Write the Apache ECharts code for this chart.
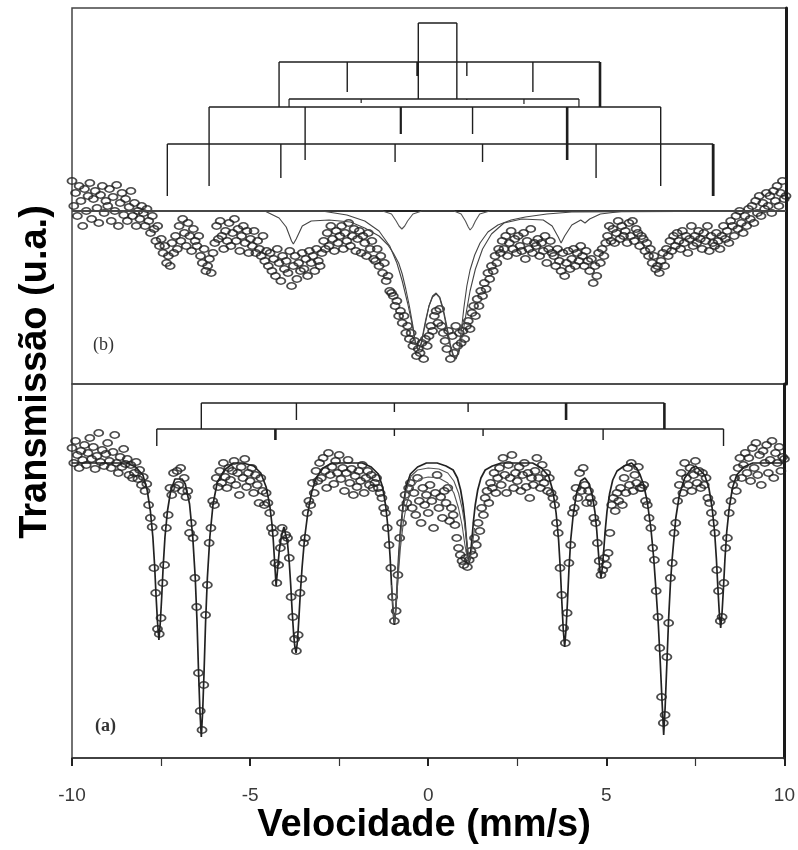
<!DOCTYPE html>
<html><head><meta charset="utf-8">
<script src="https://cdn.jsdelivr.net/npm/echarts@6/dist/echarts.min.js"></script>
<style>html,body{margin:0;padding:0;background:#fff}#chart{width:798px;height:850px}</style>
</head><body><div id="chart"></div>
<script>
// ---------- DATA ----------
// velocity channels (mm/s), 0.05 mm/s per channel
const channelStart = -10, channelStep = 0.05, channelCount = 401;
const velocity = Array.from({length: channelCount}, (_, i) => +(channelStart + i * channelStep).toFixed(2));

// Panel (a): measured transmission (a.u., baseline = 1000)
const transA = [
1015,1000,1022,1008,995,1012,1003,1018,998,1010,
1025,1004,1016,994,1007,1030,1001,1013,997,1009,
1020,1002,995,1011,1028,1000,990,1006,996,1014,
999,1004,988,998,985,990,1001,984,993,978,
986,972,979,958,945,936,895,870,834,829,
845,880,898,935,948,975,968,990,975,992,
978,995,972,985,966,972,930,940,925,885,
856,790,752,733,778,848,878,920,935,962,
958,985,976,992,980,1000,986,975,995,983,
992,1002,978,990,968,996,985,1004,976,990,
982,995,970,988,978,960,985,972,958,970,
960,950,935,930,900,880,898,915,935,922,
928,925,905,866,846,824,812,828,870,884,
920,925,950,962,958,980,970,992,982,1000,
985,1005,992,975,1010,988,996,979,1002,990,
1008,984,995,972,990,1003,980,994,968,987,
976,992,982,998,970,985,992,978,988,975,
980,985,975,970,965,955,950,935,918,895,
866,842,852,888,925,940,955,968,960,975,
980,955,970,948,985,962,940,975,958,968,
950,978,962,935,970,988,955,966,945,972,
960,975,942,955,948,938,925,915,908,902,
898,905,896,903,912,908,925,918,940,932,
955,948,965,972,960,980,975,990,970,985,
995,978,1005,988,970,998,985,1008,975,990,
982,996,972,988,1000,976,990,965,985,978,
992,1005,985,975,998,980,990,972,985,970,
965,958,940,930,895,868,835,820,850,900,
918,950,955,975,965,990,972,995,978,960,
972,965,960,945,940,920,902,888,893,905,
898,910,930,958,965,952,970,962,975,958,
985,970,995,978,1000,972,988,980,996,975,
975,978,962,958,945,935,915,903,872,846,
815,766,740,748,806,840,885,900,930,940,
962,978,990,970,1000,985,978,995,972,988,
1002,980,992,975,990,978,985,965,960,950,
940,930,893,872,842,846,880,915,925,950,
962,978,985,972,995,1005,985,998,1010,990,
1005,982,1015,995,1020,988,1008,978,1012,1000,
1018,990,1003,1022,985,1010,1000,1016,992,1006,
1004];

// Panel (b): measured transmission (a.u., baseline = 1000)
const transB = [
1030,1005,1018,995,1025,1010,985,1022,1000,1015,
1028,992,1012,1020,1003,988,1016,1025,998,1010,
1005,1022,990,1014,1000,1026,985,1008,1018,996,
1012,990,1004,1020,995,1008,985,1000,992,1005,
998,985,1002,990,978,995,982,970,985,965,
972,958,965,948,955,945,968,958,975,962,
985,970,992,978,965,988,975,960,982,970,
965,975,955,948,962,940,945,952,938,958,
968,985,972,990,975,962,980,970,988,965,
978,992,970,982,960,975,985,968,980,958,
972,965,980,958,970,962,955,975,950,960,
945,958,940,952,935,962,948,930,955,942,
950,938,960,925,945,955,932,948,940,958,
942,952,935,960,948,955,940,962,950,945,
958,970,962,978,965,985,972,960,980,968,
975,985,962,978,970,988,965,975,982,960,
972,980,958,975,968,955,978,962,970,952,
950,962,945,955,938,948,930,935,920,918,
915,905,910,895,900,888,895,878,885,872,
878,865,870,855,862,858,868,852,872,865,
875,885,880,895,900,888,902,885,878,870,
862,880,852,875,858,885,865,878,868,880,
872,885,890,882,898,905,895,912,905,920,
915,928,922,938,932,945,940,955,948,962,
958,970,962,975,955,968,980,962,972,958,
975,965,960,978,952,970,962,982,958,968,
965,972,955,968,960,975,948,962,970,958,
955,945,962,950,940,958,935,948,960,942,
952,962,945,958,950,965,955,945,960,950,
940,952,928,945,935,958,948,962,955,968,
975,985,970,982,968,978,990,972,985,975,
980,968,988,975,990,970,982,978,965,975,
972,960,968,955,962,948,955,942,945,938,
950,958,945,962,955,970,960,975,965,978,
970,962,980,968,975,958,972,985,965,975,
968,980,972,962,978,970,985,960,975,968,
965,978,970,962,975,985,972,980,968,990,
985,975,995,982,1000,988,978,995,985,1002,
992,1005,988,1010,998,1015,995,1008,1002,1018,
1005,1015,998,1020,1010,1025,1005,1018,1030,1012,
1015];

// Panel (a): fitted curve and two sub-spectra (velocity, transmission)
const fitA = [
[-10,1000],[-8.46,1000],[-8.21,996],[-8.01,988],[-7.89,973],[-7.80,952],[-7.73,926],[-7.68,897],[-7.64,867],[-7.60,841],[-7.56,823],[-7.52,841],[-7.48,867],[-7.44,897],[-7.39,926],[-7.32,952],[-7.23,972],[-7.11,984],[-6.91,984],[-6.82,979],[-6.70,959],[-6.61,926],[-6.54,885],[-6.49,841],[-6.45,794],[-6.41,753],[-6.37,726],[-6.33,753],[-6.29,794],[-6.25,841],[-6.20,885],[-6.13,926],[-6.04,959],[-5.92,981],[-5.72,993],[-5.47,1000],
[-5.2,1000],[-4.9,997],[-4.7,990],[-4.55,976],[-4.45,958],[-4.39,940],[-4.35,923],[-4.31,900],[-4.27,877],[-4.23,893],[-4.18,913],[-4.12,927],[-4.05,936],[-4.0,935],[-3.95,920],[-3.9,900],[-3.86,878],[-3.82,852],[-3.78,830],[-3.75,818],[-3.71,810],[-3.67,822],[-3.63,845],[-3.59,870],[-3.54,896],[-3.47,925],[-3.38,950],[-3.27,971],[-3.15,985],[-2.95,995],[-2.7,1000],
[-1.85,1000],[-1.6,996],[-1.40,989],[-1.28,976],[-1.19,956],[-1.12,932],[-1.07,906],[-1.03,878],[-0.99,854],[-0.95,838],[-0.91,854],[-0.87,878],[-0.83,906],[-0.78,932],[-0.71,956],[-0.62,976],[-0.50,989],[-0.30,996],[-0.05,1000],
[0.25,1000],[0.5,997],[0.7,993],[0.82,985],[0.91,973],[0.98,958],[1.03,942],[1.07,925],[1.11,910],[1.15,900],[1.19,910],[1.23,925],[1.27,942],[1.32,958],[1.39,973],[1.48,985],[1.6,993],[1.8,997],[2.05,1000],
[2.93,1000],[3.18,995],[3.38,987],[3.50,972],[3.59,950],[3.66,923],[3.71,893],[3.75,862],[3.79,834],[3.83,816],[3.87,834],[3.91,862],[3.95,893],[4.00,923],[4.07,948],[4.16,969],[4.28,982],[4.40,985],[4.52,979],[4.61,967],[4.68,951],[4.73,933],[4.77,914],[4.81,896],[4.85,885],[4.89,896],[4.93,914],[4.97,933],[5.02,952],[5.09,969],[5.18,983],[5.30,992],[5.50,997],[5.71,1000],
[5.85,995],[5.95,988],[6.05,978],[6.15,961],[6.25,935],[6.33,905],[6.40,870],[6.46,838],[6.51,804],[6.56,765],[6.61,728],[6.65,755],[6.70,800],[6.75,845],[6.80,880],[6.85,905],[6.90,925],[6.95,945],[7.05,968],[7.20,985],[7.40,995],[7.51,997],[7.76,988],[7.88,975],[7.97,955],[8.04,931],[8.09,904],[8.13,876],[8.17,851],[8.21,835],[8.25,851],[8.29,876],[8.33,904],[8.38,931],[8.45,955],[8.54,975],[8.66,988],[8.86,996],[9.11,1000],[10,1000]];
const subA1 = [[-1.03,878],[-0.99,854],[-0.95,840],[-0.92,850],[-0.86,885],[-0.80,920],[-0.72,950],[-0.62,972],[-0.48,987],[-0.3,993],[0.0,995],[0.3,994],[0.55,990],[0.72,982],[0.85,970],[0.95,955],[1.02,940],[1.08,922],[1.12,910],[1.16,902],[1.22,912],[1.3,935]];
const subA2 = [[-0.95,840],[-0.9,858],[-0.84,888],[-0.78,915],[-0.70,940],[-0.6,960],[-0.45,976],[-0.25,984],[0.0,986],[0.3,985],[0.55,980],[0.72,970],[0.85,955],[0.95,938],[1.03,918],[1.1,905],[1.15,900]];

// Panel (b): sub-spectra
const baseB = [[-10,1000],[10,1000]];
const subB1 = [[-10,1000],[-4.6,1000],[-4.2,993],[-4.0,984],[-3.85,970],[-3.8,967],[-3.72,972],[-3.55,985],[-3.3,990],[-2.8,991],[-2.2,989],[-1.8,983],[-1.4,975],[-1.15,966],[-1.0,958],[-0.85,948],[-0.75,937],[-0.65,922],[-0.55,905],[-0.45,885],[-0.38,868],[-0.3,860],[-0.22,866],[-0.1,888],[0.0,905],[0.1,915],[0.2,918],[0.3,914],[0.4,902],[0.5,885],[0.6,866],[0.68,856],[0.76,853],[0.85,860],[0.95,878],[1.05,900],[1.15,920],[1.3,942],[1.5,962],[1.75,977],[2.1,988],[2.6,992],[3.2,991],[3.45,985],[3.62,974],[3.7,968],[3.8,975],[4.0,986],[4.25,991],[4.37,988],[4.5,992],[4.8,997],[5.5,1000],[10,1000]];
const subB2 = [[-10,1000],[-3.0,1000],[-2.3,996],[-1.8,990],[-1.4,980],[-1.1,965],[-0.9,948],[-0.75,930],[-0.6,908],[-0.48,888],[-0.38,868],[-0.3,861],[-0.22,868],[-0.1,890],[0.0,905],[0.1,914],[0.2,917],[0.3,913],[0.4,900],[0.5,882],[0.6,864],[0.68,855],[0.76,852],[0.84,862],[0.92,885],[0.98,904],[1.06,925],[1.15,941],[1.28,956],[1.43,968],[1.65,979],[1.93,986],[2.3,991],[2.7,994],[3.3,997],[4,999],[10,1000]];
const subB3 = [[-10,1000],[-1.3,1000],[-1.05,997],[-0.92,990],[-0.84,985],[-0.76,982],[-0.68,985],[-0.6,990],[-0.45,997],[-0.2,1000],[0.7,1000],[0.9,997],[1.02,990],[1.1,984],[1.15,981],[1.22,984],[1.3,990],[1.42,997],[1.7,1000],[10,1000]];

// Line positions (mm/s) of the sextets / doublet marked above the spectra
const sextetsB = [
  [-4.20,-2.29,-0.32,1.06,2.91,4.79],
  [-3.92,-1.90,-0.31,1.06,2.66,4.20],
  [-6.16,-3.47,-0.79,1.22,3.87,6.49],
  [-7.33,-4.15,-0.95,1.50,4.68,7.96]];
const doubletB = [-0.30, 0.78];
const sextetsA = [
  [-6.37,-3.70,-0.95,1.12,3.87,6.63],
  [-7.62,-4.29,-0.95,1.54,4.91,8.29]];

// ---------- DRAWING ----------
// stick-diagram layout: bar level, end-leg bottom, inner tick bottoms, widths
const stickStyleB = [
  {bar:1149, end:1104, ticks:[1119,1135,1135,1119], tw:[1.4,2.6,1.4,1.4], ew:[1.4,2.6]},
  {bar:1112, end:1104, ticks:[1108,null,1111,1107], tw:[1.2,1.2,1.2,1.2], ew:[1.2,1.2]},
  {bar:1104, end:1025, ticks:[1051,1077,1077,1051], tw:[1.4,2.2,1.4,2.6], ew:[1.4,1.4]},
  {bar:1067, end:1015, ticks:[1033,1049,1049,1033], tw:[1.4,1.4,1.4,1.4], ew:[1.4,2.8]}];
const doubletStyleB = {top:1188, bottom:1112};
const stickStyleA = [
  {bar:1060, end:1034, ticks:[1043,1051,1051,1043], tw:[1.4,1.4,1.4,2.6], ew:[1.4,2.6]},
  {bar:1034, end:1017, ticks:[1023,1027,1027,1023], tw:[2.6,1.4,1.4,1.4], ew:[1.4,1.4]}];

function stickSegments(sets, styles) {
  const segs = [];
  sets.forEach((p, k) => {
    const s = styles[k];
    segs.push([p[0], s.bar, p[5], s.bar, 1.4]);
    segs.push([p[0], s.bar, p[0], s.end, s.ew[0]]);
    segs.push([p[5], s.bar, p[5], s.end, s.ew[1]]);
    for (let j = 1; j <= 4; j++) {
      if (s.ticks[j-1] !== null) segs.push([p[j], s.bar, p[j], s.ticks[j-1], s.tw[j-1]]);
    }
  });
  return segs;
}
const segB = stickSegments(sextetsB, stickStyleB);
segB.push([doubletB[0], doubletStyleB.top, doubletB[1], doubletStyleB.top, 1.4]);
segB.push([doubletB[0], doubletStyleB.top, doubletB[0], doubletStyleB.bottom, 1.4]);
segB.push([doubletB[1], doubletStyleB.top, doubletB[1], doubletStyleB.bottom, 1.4]);
const segA = stickSegments(sextetsA, stickStyleA);

function renderSeg(params, api) {
  const a = api.coord([api.value(0), api.value(1)]);
  const b = api.coord([api.value(2), api.value(3)]);
  return {type:'line', shape:{x1:a[0], y1:a[1], x2:b[0], y2:b[1]},
          style:{stroke:'#1e1e1e', lineWidth: api.value(4)}};
}

const ptsA = velocity.map((v, i) => [v, transA[i]]);
const ptsB = velocity.map((v, i) => [v, transB[i]]);

const scatterStyle = {color:'rgba(255,255,255,0)', borderColor:'#1f1f1f', borderWidth:1.6};
function lineSeries(data, xi, width, color, z) {
  return {type:'line', data, xAxisIndex:xi, yAxisIndex:xi, showSymbol:false, symbol:'none',
          lineStyle:{width, color}, z, silent:true, animation:false};
}

const chart = echarts.init(document.getElementById('chart'), null, {renderer:'canvas'});
chart.setOption({
  animation:false,
  backgroundColor:'#ffffff',
  grid:[
    {left:72, right:12, top:8, height:376, show:true, borderColor:'#444', borderWidth:1.5},
    {left:72, right:12, top:384, height:374, show:true, borderColor:'#444', borderWidth:1.5}
  ],
  xAxis:[
    {gridIndex:0, type:'value', min:-10, max:10, interval:5, axisLine:{show:false}, axisTick:{show:false}, axisLabel:{show:false}, splitLine:{show:false}},
    {gridIndex:1, type:'value', min:-10, max:10, interval:5, position:'bottom',
     axisLine:{show:true, onZero:false, lineStyle:{color:'#333', width:1.5}},
     axisTick:{show:true, length:8, lineStyle:{color:'#222', width:2}},
     minorTick:{show:true, splitNumber:2, length:8, lineStyle:{color:'#333', width:1.2}},
     axisLabel:{fontSize:19, color:'#3a3a3a', margin:28, fontFamily:'Liberation Sans'},
     splitLine:{show:false}, minorSplitLine:{show:false}}
  ],
  yAxis:[
    {gridIndex:0, type:'value', min:827, max:1203, show:false},
    {gridIndex:1, type:'value', min:705, max:1079, show:false},
    {gridIndex:0, type:'value', min:827, max:1203, position:'right', axisLine:{show:true, onZero:false, lineStyle:{width:3, color:'#1a1a1a'}}, axisTick:{show:false}, axisLabel:{show:false}, splitLine:{show:false}},
    {gridIndex:1, type:'value', min:705, max:1079, position:'right', axisLine:{show:true, onZero:false, lineStyle:{width:3, color:'#1a1a1a'}}, axisTick:{show:false}, axisLabel:{show:false}, splitLine:{show:false}}
  ],
  graphic:[
    {type:'text', left:93, top:336, style:{text:'(b)', font:'18px "Liberation Serif"', fill:'#333'}},
    {type:'text', left:95, top:717, style:{text:'(a)', font:'bold 18px "Liberation Serif"', fill:'#333'}},
    {type:'text', x:36, y:372, rotation:Math.PI/2, style:{text:'Transmissão (u.a.)', font:'bold 38px "Liberation Sans"', fill:'#000', align:'center', verticalAlign:'middle'}},
    {type:'text', x:424, y:826, style:{text:'Velocidade (mm/s)', font:'bold 38px "Liberation Sans"', fill:'#000', align:'center', verticalAlign:'middle'}}
  ],
  series:[
    {type:'scatter', data:ptsB, xAxisIndex:0, yAxisIndex:0, symbol:'circle', symbolSize:[9,6.5], itemStyle:scatterStyle, z:2, silent:true, animation:false},
    lineSeries(baseB, 0, 2, '#222', 4),
    lineSeries(subB1, 0, 1.1, '#444', 4),
    lineSeries(subB2, 0, 1.1, '#444', 4),
    lineSeries(subB3, 0, 1.1, '#555', 4),
    {type:'custom', renderItem:renderSeg, data:segB, xAxisIndex:0, yAxisIndex:0, encode:{x:[0,2], y:[1,3]}, z:5, silent:true, animation:false},
    {type:'scatter', data:ptsA, xAxisIndex:1, yAxisIndex:1, symbol:'circle', symbolSize:[9,6.5], itemStyle:scatterStyle, z:2, silent:true, animation:false},
    lineSeries(fitA, 1, 1.7, '#222', 4),
    lineSeries(subA1, 1, 1.1, '#555', 4),
    lineSeries(subA2, 1, 1.1, '#555', 4),
    {type:'custom', renderItem:renderSeg, data:segA, xAxisIndex:1, yAxisIndex:1, encode:{x:[0,2], y:[1,3]}, z:5, silent:true, animation:false}
  ]
});
</script></body></html>
